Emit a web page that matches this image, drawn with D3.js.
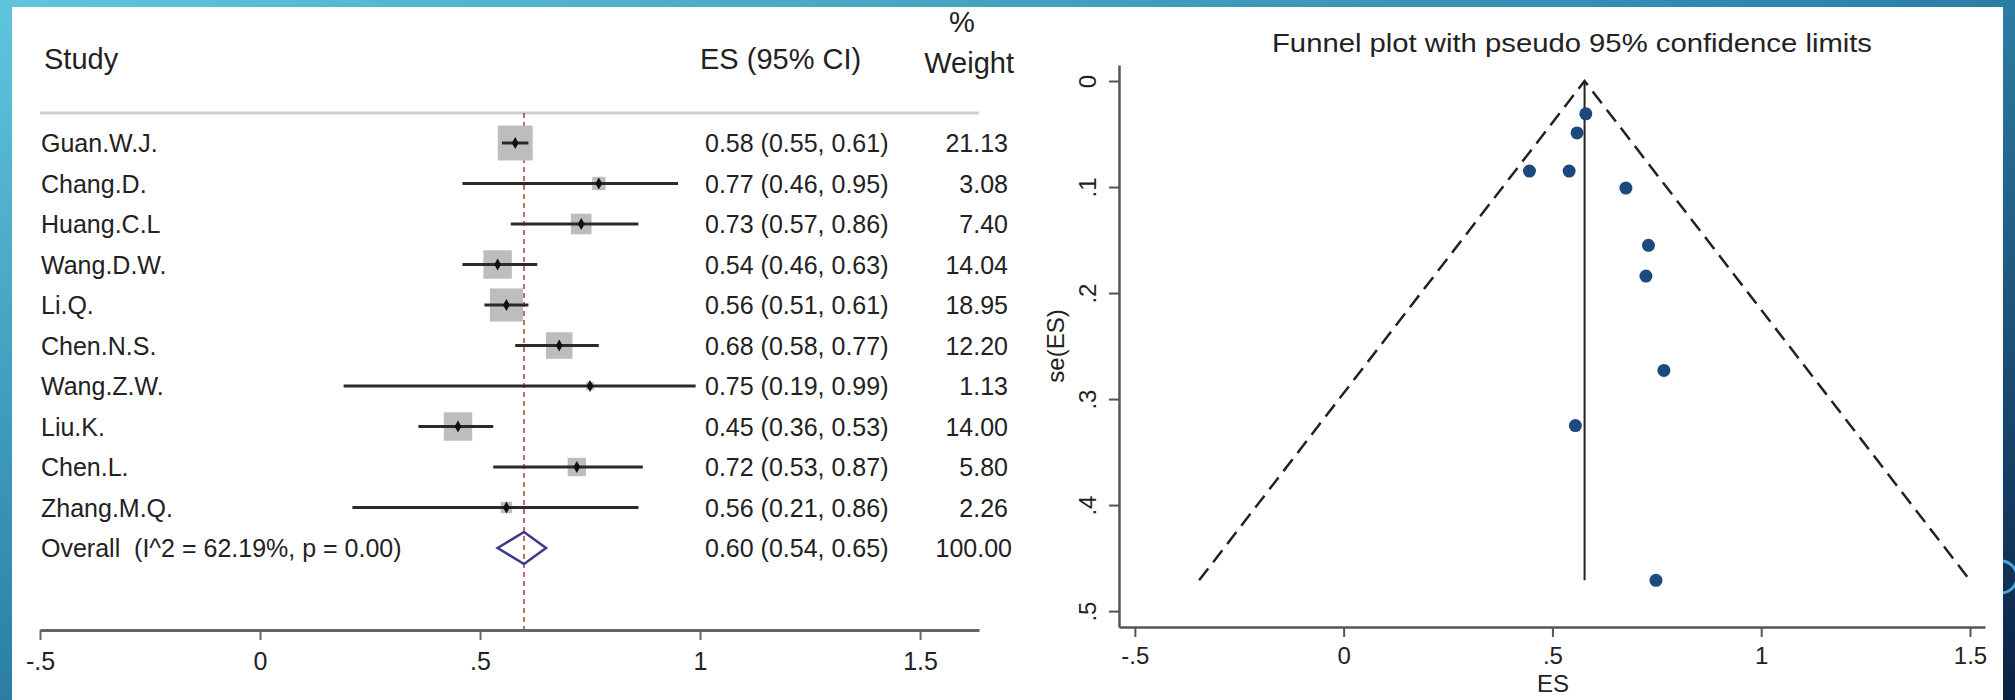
<!DOCTYPE html>
<html>
<head>
<meta charset="utf-8">
<script src="https://cdn.jsdelivr.net/npm/d3@7"></script>
<style>
  html, body { margin: 0; padding: 0; width: 2015px; height: 700px; overflow: hidden; }
  svg { display: block; font-family: "Liberation Sans", Arial, Helvetica, sans-serif; }
</style>
</head>
<body>
<svg id="chart" width="2015" height="700"></svg>
<script>
// ---------------- DATA ----------------
const studies   = ["Guan.W.J.", "Chang.D.", "Huang.C.L", "Wang.D.W.", "Li.Q.", "Chen.N.S.", "Wang.Z.W.", "Liu.K.", "Chen.L.", "Zhang.M.Q."];
const esValues  = [0.58, 0.77, 0.73, 0.54, 0.56, 0.68, 0.75, 0.45, 0.72, 0.56];
const ciLower   = [0.55, 0.46, 0.57, 0.46, 0.51, 0.58, 0.19, 0.36, 0.53, 0.21];
const ciUpper   = [0.61, 0.95, 0.86, 0.63, 0.61, 0.77, 0.99, 0.53, 0.87, 0.86];
const weights   = [21.13, 3.08, 7.40, 14.04, 18.95, 12.20, 1.13, 14.00, 5.80, 2.26];
const esLabels  = ["0.58 (0.55, 0.61)", "0.77 (0.46, 0.95)", "0.73 (0.57, 0.86)", "0.54 (0.46, 0.63)", "0.56 (0.51, 0.61)",
                   "0.68 (0.58, 0.77)", "0.75 (0.19, 0.99)", "0.45 (0.36, 0.53)", "0.72 (0.53, 0.87)", "0.56 (0.21, 0.86)"];
const weightLabels = ["21.13", "3.08", "7.40", "14.04", "18.95", "12.20", "1.13", "14.00", "5.80", "2.26"];
const overall   = { label: "Overall  (I^2 = 62.19%, p = 0.00)", es: 0.60, lo: 0.54, hi: 0.65, text: "0.60 (0.54, 0.65)", weight: "100.00" };

const forestTicks      = [-0.5, 0, 0.5, 1, 1.5];
const forestTickLabels = ["-.5", "0", ".5", "1", "1.5"];

// funnel plot: standard errors (same study order)
const seValues  = [0.031, 0.273, 0.155, 0.085, 0.049, 0.101, 0.471, 0.085, 0.184, 0.325];
const funnelES  = [0.58, 0.767, 0.73, 0.54, 0.559, 0.676, 0.748, 0.445, 0.724, 0.555];
const funnelTheta = 0.577;   // pooled (fixed) estimate, vertical line
const funnelSeMax = 0.471;   // bottom of the funnel
const funnelXTicks      = [-0.5, 0, 0.5, 1, 1.5];
const funnelXTickLabels = ["-.5", "0", ".5", "1", "1.5"];
const funnelYTicks      = [0, 0.1, 0.2, 0.3, 0.4, 0.5];
const funnelYTickLabels = ["0", ".1", ".2", ".3", ".4", ".5"];

// ---------------- DRAW ----------------
const svg = d3.select("#chart");
const defs = svg.append("defs");
const grad = defs.append("linearGradient").attr("id", "bg")
  .attr("x1", "0").attr("y1", "0").attr("x2", "1").attr("y2", "1");
grad.append("stop").attr("offset", "0%").attr("stop-color", "#5fc6dc");
grad.append("stop").attr("offset", "45%").attr("stop-color", "#2f86ad");
grad.append("stop").attr("offset", "100%").attr("stop-color", "#0a2046");

svg.append("rect").attr("width", 2015).attr("height", 700).attr("fill", "url(#bg)");
// decorative circle at right edge (partly hidden by panel)
svg.append("circle").attr("cx", 2001).attr("cy", 577).attr("r", 16)
  .attr("fill", "none").attr("stroke", "#4aa6dc").attr("stroke-width", 3);
// white panel
svg.append("rect").attr("x", 12).attr("y", 7).attr("width", 1991).attr("height", 693).attr("fill", "#ffffff");

const TXT = "#222222";
const FS = 25;

// ---- Forest plot ----
const fx = d3.scaleLinear().domain([-0.5, 1.634]).range([40, 979]);
const rows = studies.concat(["__overall"]);
const fy = d3.scalePoint().domain(rows).range([143, 548]);

const forest = svg.append("g");

// header
forest.append("text").attr("x", 44).attr("y", 59).attr("dominant-baseline", "central")
  .attr("font-size", 29).attr("fill", TXT).text("Study");
forest.append("text").attr("x", 700).attr("y", 59).attr("dominant-baseline", "central")
  .attr("font-size", 29).attr("fill", TXT).text("ES (95% CI)");
forest.append("text").attr("x", 962).attr("y", 22).attr("dominant-baseline", "central").attr("text-anchor", "middle")
  .attr("font-size", 29).attr("fill", TXT).text("%");
forest.append("text").attr("x", 1014).attr("y", 63).attr("dominant-baseline", "central").attr("text-anchor", "end")
  .attr("font-size", 29).attr("fill", TXT).text("Weight");
forest.append("line").attr("x1", 40).attr("x2", 979).attr("y1", 113).attr("y2", 113)
  .attr("stroke", "#cfcfcf").attr("stroke-width", 3);

// reference line at overall estimate
forest.append("line").attr("x1", fx(overall.es)).attr("x2", fx(overall.es))
  .attr("y1", 113).attr("y2", 630)
  .attr("stroke", "#b33a3a").attr("stroke-width", 1.5).attr("stroke-dasharray", "5,4");

const data = studies.map((s, i) => ({ s, es: esValues[i], lo: ciLower[i], hi: ciUpper[i], w: weights[i], t: esLabels[i], wl: weightLabels[i] }));

const rowG = forest.selectAll("g.row").data(data).enter().append("g").attr("class", "row");
rowG.append("rect")
  .attr("x", d => fx(d.es) - 3.8 * Math.sqrt(d.w))
  .attr("y", d => fy(d.s) - 3.8 * Math.sqrt(d.w))
  .attr("width", d => 7.6 * Math.sqrt(d.w))
  .attr("height", d => 7.6 * Math.sqrt(d.w))
  .attr("fill", "#bdbdbd");
rowG.append("line")
  .attr("x1", d => fx(d.lo)).attr("x2", d => fx(d.hi))
  .attr("y1", d => fy(d.s)).attr("y2", d => fy(d.s))
  .attr("stroke", "#2a2a2a").attr("stroke-width", 3);
rowG.append("path")
  .attr("d", d3.symbol().type(d3.symbolDiamond).size(40))
  .attr("transform", d => `translate(${fx(d.es)},${fy(d.s)})`)
  .attr("fill", "#111");
rowG.append("text").attr("x", 41).attr("y", d => fy(d.s)).attr("dominant-baseline", "central")
  .attr("font-size", FS).attr("fill", TXT).text(d => d.s);
rowG.append("text").attr("x", 705).attr("y", d => fy(d.s)).attr("dominant-baseline", "central")
  .attr("font-size", FS).attr("fill", TXT).text(d => d.t);
rowG.append("text").attr("x", 1008).attr("y", d => fy(d.s)).attr("dominant-baseline", "central").attr("text-anchor", "end")
  .attr("font-size", FS).attr("fill", TXT).text(d => d.wl);

// overall row
const oy = fy("__overall");
forest.append("path")
  .attr("d", `M${fx(overall.lo)},${oy} L${fx(overall.es)},${oy - 16} L${fx(overall.hi)},${oy} L${fx(overall.es)},${oy + 16} Z`)
  .attr("fill", "none").attr("stroke", "#3b3a8a").attr("stroke-width", 2.5);
forest.append("text").attr("x", 41).attr("y", oy).attr("dominant-baseline", "central")
  .attr("font-size", FS).attr("fill", TXT).style("white-space", "pre").text(overall.label);
forest.append("text").attr("x", 705).attr("y", oy).attr("dominant-baseline", "central")
  .attr("font-size", FS).attr("fill", TXT).text(overall.text);
forest.append("text").attr("x", 1012).attr("y", oy).attr("dominant-baseline", "central").attr("text-anchor", "end")
  .attr("font-size", FS).attr("fill", TXT).text(overall.weight);

// forest axis
const fAxis = forest.append("g").attr("transform", "translate(0,630)")
  .call(d3.axisBottom(fx).tickValues(forestTicks).tickSize(10).tickSizeOuter(0)
    .tickFormat((d, i) => forestTickLabels[i]));
fAxis.select(".domain").attr("stroke", "#666").attr("stroke-width", 3);
fAxis.selectAll(".tick line").attr("stroke", "#666").attr("stroke-width", 2);
fAxis.selectAll(".tick text").attr("font-size", 25).attr("fill", TXT)
  .attr("y", 31).attr("dy", 0).attr("dominant-baseline", "central")
  .attr("font-family", "\"Liberation Sans\", Arial, sans-serif");

// ---- Funnel plot ----
const sx = d3.scaleLinear().domain([-0.538, 1.536]).range([1119, 1985]);
const sy = d3.scaleLinear().domain([-0.0151, 0.515]).range([65, 627]);
const funnel = svg.append("g");

funnel.append("text").attr("x", 1272).attr("y", 43).attr("dominant-baseline", "central")
  .attr("font-size", 25).attr("fill", TXT)
  .attr("textLength", 600).attr("lengthAdjust", "spacingAndGlyphs")
  .text("Funnel plot with pseudo 95% confidence limits");

// pseudo confidence limits
const lim = [
  [funnelTheta - 1.96 * funnelSeMax, funnelSeMax],
  [funnelTheta, 0],
  [funnelTheta + 1.96 * funnelSeMax, funnelSeMax]
];
funnel.append("path")
  .attr("d", d3.line().x(d => sx(d[0])).y(d => sy(d[1]))(lim))
  .attr("fill", "none").attr("stroke", "#222").attr("stroke-width", 2.5).attr("stroke-dasharray", "15,8");
funnel.append("line")
  .attr("x1", sx(funnelTheta)).attr("x2", sx(funnelTheta))
  .attr("y1", sy(0)).attr("y2", sy(funnelSeMax))
  .attr("stroke", "#222").attr("stroke-width", 2);

funnel.selectAll("circle.pt").data(seValues).enter().append("circle").attr("class", "pt")
  .attr("cx", (d, i) => sx(funnelES[i])).attr("cy", d => sy(d)).attr("r", 6.5)
  .attr("fill", "#1c4a7c");

// axes
const sxAxis = funnel.append("g").attr("transform", "translate(0,627)")
  .call(d3.axisBottom(sx).tickValues(funnelXTicks).tickSize(10).tickSizeOuter(0)
    .tickFormat((d, i) => funnelXTickLabels[i]));
const syAxis = funnel.append("g").attr("transform", "translate(1119,0)")
  .call(d3.axisLeft(sy).tickValues(funnelYTicks).tickSize(10).tickSizeOuter(0)
    .tickFormat((d, i) => funnelYTickLabels[i]));
[sxAxis, syAxis].forEach(a => {
  a.select(".domain").attr("stroke", "#555").attr("stroke-width", 2.5);
  a.selectAll(".tick line").attr("stroke", "#555").attr("stroke-width", 2);
  a.selectAll(".tick text").attr("font-size", 24).attr("fill", TXT)
    .attr("font-family", "\"Liberation Sans\", Arial, sans-serif");
});
sxAxis.selectAll(".tick text").attr("y", 28).attr("dy", 0).attr("dominant-baseline", "central");
syAxis.selectAll(".tick text")
  .attr("transform", "rotate(-90)")
  .attr("x", 0).attr("y", -32).attr("dy", 0)
  .attr("text-anchor", "middle").attr("dominant-baseline", "central");

funnel.append("text").attr("x", 1553).attr("y", 683).attr("text-anchor", "middle").attr("dominant-baseline", "central")
  .attr("font-size", 24).attr("fill", TXT).text("ES");
funnel.append("text").attr("transform", "translate(1055,346) rotate(-90)")
  .attr("text-anchor", "middle").attr("dominant-baseline", "central")
  .attr("font-size", 24).attr("fill", TXT).text("se(ES)");
</script>
</body>
</html>
